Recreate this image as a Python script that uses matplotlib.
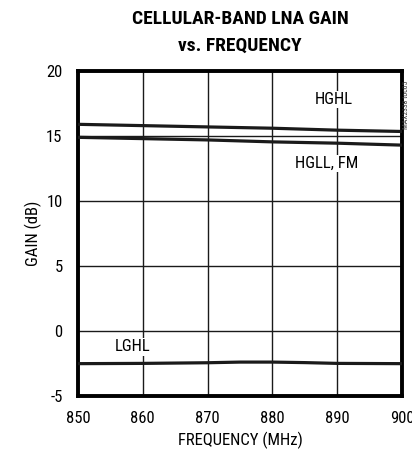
import matplotlib
matplotlib.use("Agg")
import matplotlib.pyplot as plt
from matplotlib import font_manager

names = {f.name for f in font_manager.fontManager.ttflist}
FONT = next((f for f in ["Roboto Condensed", "Archivo Narrow", "PT Sans Narrow", "Liberation Sans"] if f in names), "DejaVu Sans")

freq_hghl = [850, 860, 870, 880, 890, 900]
gain_hghl = [15.9, 15.8, 15.7, 15.6, 15.45, 15.35]
freq_hgll = [850, 860, 870, 880, 890, 900]
gain_hgll = [14.9, 14.8, 14.7, 14.55, 14.45, 14.3]
freq_lghl = [850, 860, 870, 875, 880, 885, 890, 900]
gain_lghl = [-2.5, -2.48, -2.43, -2.38, -2.38, -2.42, -2.48, -2.5]

xticks = [850, 860, 870, 880, 890, 900]
yticks = [-5, 0, 5, 10, 15, 20]

fig = plt.figure(figsize=(4.12, 4.58), dpi=100)
ax = fig.add_axes([0.189, 0.135, 0.787, 0.710])

ax.plot(freq_hghl, gain_hghl, color="#1a1a1a", lw=2.3, zorder=3)
ax.plot(freq_hgll, gain_hgll, color="#1a1a1a", lw=2.3, zorder=3)
ax.plot(freq_lghl, gain_lghl, color="#1a1a1a", lw=2.3, zorder=3)

ax.set_xlim(850, 900)
ax.set_ylim(-5, 20)
ax.set_xticks(xticks)
ax.set_yticks(yticks)
ax.set_xticklabels([str(v) for v in xticks], family=FONT, fontsize=12)
ax.set_yticklabels([str(v) for v in yticks], family=FONT, fontsize=12)
ax.tick_params(length=0, pad=11)
ax.grid(True, color="#1a1a1a", lw=1.0)
for s in ax.spines.values():
    s.set_linewidth(2.8)
    s.set_color("black")

bbox = dict(facecolor="white", edgecolor="none", pad=1)
ax.text(889.5, 17.8, "HGHL", family=FONT, fontsize=12, ha="center", va="center", bbox=bbox, zorder=4)
ax.text(888.3, 12.9, "HGLL, FM", family=FONT, fontsize=12, ha="center", va="center", bbox=bbox, zorder=4)
ax.text(858.5, -1.2, "LGHL", family=FONT, fontsize=12, ha="center", va="center", bbox=bbox, zorder=4)

ax.set_xlabel("FREQUENCY (MHz)", family=FONT, fontsize=12, labelpad=4)
ax.set_ylabel("GAIN (dB)", family=FONT, fontsize=12, labelpad=3)

fig.text(0.583, 0.958, "CELLULAR-BAND LNA GAIN", family=FONT, weight="bold",
         fontsize=14, ha="center", va="center")
fig.text(0.583, 0.900, "vs. FREQUENCY", family=FONT, weight="bold",
         fontsize=14, ha="center", va="center")
fig.text(0.985, 0.77, "MAX2338 toc05", family=FONT, fontsize=5.5, rotation=90,
         ha="center", va="center", color="#333333")

fig.savefig("out.png", dpi=100)
